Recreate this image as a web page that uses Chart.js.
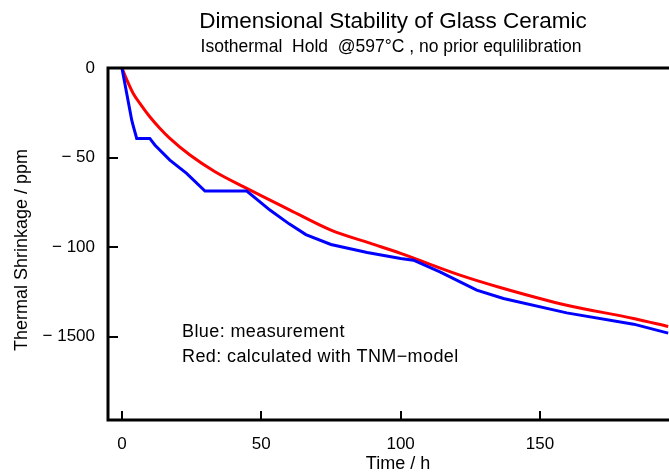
<!DOCTYPE html>
<html>
<head>
<meta charset="utf-8">
<script src="https://cdn.jsdelivr.net/npm/chart.js@4/dist/chart.umd.min.js"></script>
<style>
  html, body { margin: 0; padding: 0; background: #fff; }
  #wrap { width: 669px; height: 474px; }
</style>
</head>
<body>
<div id="wrap"><canvas id="chart" width="669" height="474"></canvas></div>
<script>
// measured shrinkage (blue)
const measTime = [0, 3.5, 4, 5.3, 10, 11.8, 17.2, 23.2, 29.8, 44.8, 53.1, 60, 66, 75, 88, 100, 104.6, 114.1, 127.3, 136.9, 159.6, 183.6, 196];
const measPpm  = [0, -29, -32, -39.3, -39.3, -43, -51.4, -58.8, -68.7, -68.7, -79.3, -87, -93, -98.5, -103, -106.3, -107.3, -113.8, -124, -128.7, -136.7, -143, -148];

// TNM model (red)
const modelTime = [0, 2, 4, 7, 10, 13.5, 17.2, 24.4, 33.4, 44.8, 60.3, 75, 89, 100, 121.3, 135.7, 159.6, 183.6, 196];
const modelPpm  = [0, -7.5, -14.1, -21, -27.2, -33.5, -39.3, -48.6, -57.9, -67.2, -79.3, -90.5, -97.8, -103.5, -115.6, -122.5, -132.4, -139.8, -144.3];

const xTickValues = [0, 50, 100, 150];
const xTickLabels = ["0", "50", "100", "150"];
const yTickValues = [0, -50, -100, -150];
const yTickLabels = ["0", "\u2212 50", "\u2212 100", "\u2212 1500"];

const FONT = "'Liberation Sans', Arial, Helvetica, sans-serif";

function toPoints(xs, ys) {
    return xs.map((x, i) => ({ x: x, y: ys[i] }));
}

// frame, inward ticks and all texts
const decorPlugin = {
    id: "decor",
    afterDraw(chart) {
        const ctx = chart.ctx;
        const area = chart.chartArea;
        const xs = chart.scales.x;
        const ys = chart.scales.y;

        ctx.save();
        ctx.strokeStyle = "#000";
        ctx.lineWidth = 3;
        ctx.lineCap = "square";
        ctx.beginPath();
        ctx.moveTo(area.right + 5, area.top);
        ctx.lineTo(area.left, area.top);
        ctx.lineTo(area.left, area.bottom);
        ctx.lineTo(area.right + 5, area.bottom);
        ctx.stroke();

        ctx.lineWidth = 2;
        ctx.lineCap = "butt";
        ctx.beginPath();
        xTickValues.forEach(v => {
            const px = Math.round(xs.getPixelForValue(v));
            ctx.moveTo(px, area.bottom);
            ctx.lineTo(px, area.bottom - 9);
        });
        yTickValues.forEach(v => {
            const py = Math.round(ys.getPixelForValue(v));
            ctx.moveTo(area.left, py);
            ctx.lineTo(area.left + 10, py);
        });
        ctx.stroke();

        ctx.fillStyle = "#000";
        ctx.font = "17px " + FONT;
        ctx.textBaseline = "middle";
        ctx.textAlign = "center";
        xTickValues.forEach((v, i) => {
            ctx.fillText(xTickLabels[i], xs.getPixelForValue(v), area.bottom + 24);
        });
        ctx.textAlign = "right";
        yTickValues.forEach((v, i) => {
            ctx.fillText(yTickLabels[i], area.left - 13, ys.getPixelForValue(v));
        });

        // axis titles
        ctx.textAlign = "center";
        ctx.font = "18px " + FONT;
        ctx.fillText("Time / h", 398, 464);
        ctx.save();
        ctx.translate(22, 250);
        ctx.rotate(-Math.PI / 2);
        ctx.fillText("Thermal Shrinkage / ppm", 0, 0);
        ctx.restore();

        // titles
        ctx.font = "22.5px " + FONT;
        ctx.fillText("Dimensional Stability of Glass Ceramic", 393, 22);
        ctx.font = "17.5px " + FONT;
        ctx.fillText("Isothermal  Hold  @597\u00b0C , no prior equlilibration", 391, 47);

        // annotation
        ctx.textAlign = "left";
        ctx.font = "18px " + FONT;
        if ("letterSpacing" in ctx) ctx.letterSpacing = "0.4px";
        ctx.fillText("Blue: measurement", 182, 332);
        ctx.fillText("Red: calculated with TNM\u2212model", 182, 357);
        ctx.restore();
    }
};

const chart = new Chart(document.getElementById("chart"), {
    type: "line",
    data: {
        datasets: [
            {
                label: "Blue: measurement",
                data: toPoints(measTime, measPpm),
                borderColor: "#0000ff",
                borderWidth: 3,
                pointRadius: 0,
                tension: 0,
                fill: false
            },
            {
                label: "Red: calculated with TNM-model",
                data: toPoints(modelTime, modelPpm),
                borderColor: "#ff0000",
                borderWidth: 3,
                pointRadius: 0,
                cubicInterpolationMode: "monotone",
                fill: false
            }
        ]
    },
    options: {
        responsive: false,
        animation: false,
        layout: { padding: { left: 108, top: 68, right: 0, bottom: 54 } },
        plugins: {
            legend: { display: false },
            tooltip: { enabled: false }
        },
        scales: {
            x: { type: "linear", min: -5, max: 196.3, display: false },
            y: { type: "linear", min: -196.5, max: 0, display: false }
        }
    },
    plugins: [decorPlugin]
});
</script>
</body>
</html>
